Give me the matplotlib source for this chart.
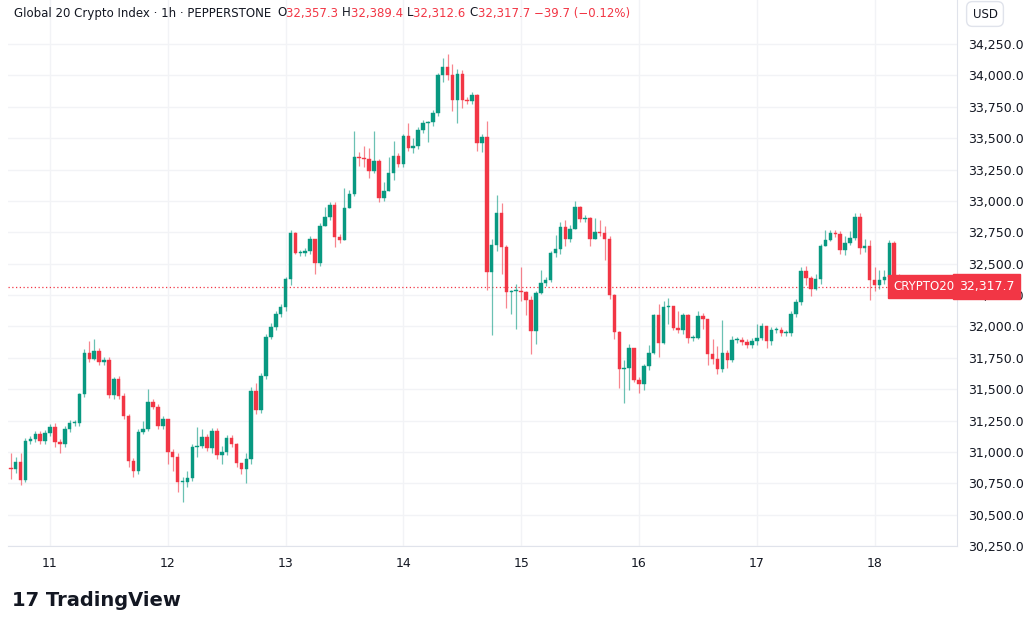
import matplotlib
matplotlib.use("Agg")
import matplotlib.pyplot as plt
from matplotlib.patches import Rectangle

# hourly closes, starting 10th 16:00
closes_d10 = [30864, 30920, 30776, 31087, 31100, 31140, 31090, 31150]
closes_d11 = [31200, 31080, 31060, 31180, 31230, 31230, 31460, 31790, 31740, 31800, 31720, 31730,
              31455, 31580, 31445, 31285, 30930, 30850, 31160, 31180, 31400, 31360, 31210, 31260]
closes_d12 = [31000, 30960, 30760, 30760, 30790, 31040, 31050, 31120, 31030, 31170, 30975, 31000,
              31110, 31060, 30910, 30860, 30940, 31485, 31335, 31605, 31915, 31995, 32100, 32155]
closes_d13 = [32380, 32745, 32585, 32587, 32600, 32696, 32507, 32802, 32874, 32967, 32714, 32690,
              32943, 33055, 33350, 33345, 33330, 33240, 33320, 33023, 33075, 33222, 33360, 33296]
closes_d14 = [33517, 33424, 33440, 33565, 33623, 33625, 33700, 34003, 34066, 34000, 33803, 34010,
              33803, 33800, 33840, 33464, 33507, 32436, 32650, 32900, 32635, 32276, 32285, 32285]
closes_d15 = [32276, 32210, 31965, 32266, 32348, 32370, 32585, 32614, 32795, 32700, 32780, 32951,
              32855, 32860, 32696, 32755, 32745, 32695, 32250, 31955, 31660, 31670, 31828, 31573]
closes_d16 = [31540, 31687, 31788, 32090, 31870, 32154, 32160, 31987, 31970, 32090, 31908, 31908,
              32082, 32060, 31780, 31740, 31660, 31788, 31735, 31890, 31890, 31875, 31850, 31880]
closes_d17 = [31905, 32000, 31880, 31970, 31970, 31950, 31950, 32100, 32195, 32444, 32385, 32298,
              32380, 32640, 32690, 32746, 32740, 32609, 32665, 32705, 32874, 32625, 32640, 32370]
closes_d18 = [32330, 32370, 32390, 32665, 32393, 32370, 32317.7]
first_open = 30870

# wick highs / lows for candles with visible wicks: (day, hour): (high, low)
wick_reads = {
    (10, 0): (30990, 30780), (10, 1): (30960, 30830), (10, 2): (30990, 30740), (10, 3): (31110, 30760),
    (11, 1): (31230, 31040), (11, 2): (31100, 30990), (11, 6): (31470, 31210),
    (11, 7): (31820, 31440), (11, 8): (31880, 31720), (11, 9): (31900, 31730),
    (11, 13): (31600, 31420), (11, 16): (31300, 30880), (11, 17): (30950, 30800),
    (11, 19): (31250, 31140), (11, 20): (31500, 31170), (11, 21): (31420, 31340),
    (12, 0): (31260, 30900), (12, 1): (31020, 30850), (12, 2): (30990, 30680), (12, 3): (30800, 30600),
    (12, 4): (30850, 30720), (12, 6): (31200, 30960), (12, 7): (31180, 31030),
    (12, 9): (31190, 30990), (12, 10): (31190, 30940), (12, 11): (31050, 30900),
    (12, 14): (31070, 30880), (12, 15): (30910, 30820), (12, 16): (30990, 30750),
    (12, 17): (31520, 30900), (12, 18): (31550, 31300), (12, 21): (32030, 31900),
    (13, 0): (32390, 32120), (13, 1): (32770, 32330), (13, 2): (32750, 32580),
    (13, 6): (32700, 32420), (13, 7): (32820, 32480), (13, 8): (32950, 32840),
    (13, 10): (32990, 32630), (13, 12): (33100, 32890), (13, 13): (33090, 32960),
    (13, 14): (33560, 33040), (13, 15): (33390, 33280), (13, 16): (33440, 33270),
    (13, 17): (33420, 33180), (13, 18): (33560, 33220), (13, 19): (33330, 32990),
    (13, 20): (33150, 33000), (13, 21): (33350, 33090), (13, 22): (33480, 33170),
    (14, 0): (33530, 33270), (14, 1): (33620, 33400), (14, 2): (33500, 33380),
    (14, 5): (33640, 33470), (14, 7): (34020, 33680), (14, 8): (34140, 33950),
    (14, 9): (34170, 33960), (14, 10): (34090, 33720), (14, 11): (34050, 33620),
    (14, 12): (34040, 33740), (14, 15): (33850, 33400), (14, 16): (33530, 33390),
    (14, 17): (33640, 32290), (14, 18): (32700, 31930), (14, 19): (33050, 32600),
    (14, 20): (32980, 32420), (14, 21): (32650, 32150), (14, 22): (32290, 32100), (14, 23): (32340, 31980),
    (15, 0): (32470, 32200), (15, 1): (32280, 32090), (15, 2): (32240, 31780), (15, 3): (32280, 31860),
    (15, 4): (32450, 32260), (15, 6): (32600, 32350), (15, 7): (32730, 32550), (15, 8): (32830, 32580),
    (15, 9): (32850, 32640), (15, 11): (33000, 32780), (15, 12): (32960, 32830),
    (15, 14): (32870, 32640), (15, 15): (32860, 32700), (15, 16): (32850, 32720),
    (15, 17): (32800, 32530), (15, 18): (32720, 32220), (15, 19): (32260, 31900),
    (15, 20): (31960, 31510), (15, 21): (31730, 31390), (15, 22): (31860, 31490), (15, 23): (31830, 31560),
    (16, 0): (31600, 31470), (16, 1): (31700, 31490), (16, 2): (31850, 31650), (16, 3): (32100, 31780),
    (16, 4): (32180, 31760), (16, 5): (32200, 31860), (16, 6): (32230, 32020),
    (16, 7): (32160, 31970), (16, 8): (32120, 31950), (16, 9): (32110, 31940),
    (16, 10): (32100, 31870), (16, 12): (32120, 31900), (16, 13): (32110, 31980),
    (16, 14): (32060, 31690), (16, 15): (31900, 31700), (16, 16): (31840, 31620),
    (16, 17): (32050, 31640), (16, 18): (31810, 31670), (16, 19): (31920, 31720),
    (17, 0): (32020, 31850), (17, 1): (32030, 31890), (17, 2): (32000, 31830),
    (17, 7): (32120, 31920), (17, 9): (32470, 32170), (17, 10): (32480, 32330),
    (17, 11): (32400, 32240), (17, 12): (32420, 32290), (17, 13): (32660, 32340),
    (17, 14): (32770, 32650), (17, 15): (32770, 32680), (17, 17): (32760, 32580),
    (17, 18): (32720, 32570), (17, 19): (32760, 32650), (17, 20): (32900, 32690),
    (17, 21): (32900, 32580), (17, 22): (32700, 32590), (17, 23): (32690, 32210),
    (18, 0): (32470, 32280), (18, 1): (32450, 32300), (18, 2): (32450, 32340),
    (18, 3): (32690, 32380), (18, 4): (32680, 32340), (18, 5): (32420, 32230), (18, 6): (32370, 32250),
}

yticks = list(range(30250, 34251, 250))
day_labels = ["11", "12", "13", "14", "15", "16", "17", "18"]

UP = "#089981"
DN = "#f23645"
GRID = "#f2f3f6"

day_lists = [(10, closes_d10, -8), (11, closes_d11, 0), (12, closes_d12, 24), (13, closes_d13, 48),
             (14, closes_d14, 72), (15, closes_d15, 96), (16, closes_d16, 120), (17, closes_d17, 144),
             (18, closes_d18, 168)]

fig = plt.figure(figsize=(10.24, 6.27), dpi=100)
ax = fig.add_axes([8 / 1024, 81 / 627, 949 / 1024, 546 / 627])
ax.set_xlim(-8.56, 184.8)
ax.set_ylim(30250, 34601)

for t in yticks:
    ax.axhline(t, color=GRID, lw=1, zorder=0)
for i in range(len(day_labels)):
    ax.axvline(i * 24, color=GRID, lw=1, zorder=0)

prev = first_open
for day, cl, start in day_lists:
    for k, c in enumerate(cl):
        h = start + k
        o = prev
        prev = c
        col = UP if c >= o else DN
        hi, lo = wick_reads.get((day, k), (max(o, c) + 25, min(o, c) - 25))
        hi = max(hi, o, c)
        lo = min(lo, o, c)
        ax.plot([h, h], [lo, hi], color=col, lw=0.9, alpha=0.6, zorder=2, solid_capstyle="butt")
        body = max(abs(c - o), 6)
        ax.add_patch(Rectangle((h - 0.36, min(o, c)), 0.72, body, facecolor=col, edgecolor=col,
                               lw=0.3, zorder=3))

last = closes_d18[-1]
ax.axhline(last, color=DN, lw=0.9, ls=(0, (1, 2)), zorder=1)

ax.yaxis.tick_right()
ax.set_yticks(yticks)
ax.set_yticklabels([f"{v:,.1f}" for v in yticks], fontsize=9, color="#131722")
ax.set_xticks([i * 24 for i in range(len(day_labels))])
ax.set_xticklabels(day_labels, fontsize=9, color="#131722")
ax.tick_params(length=0, pad=8)
for s in ["top", "left"]:
    ax.spines[s].set_visible(False)
ax.spines["right"].set_color("#e0e3eb")
ax.spines["bottom"].set_color("#e0e3eb")

yfrac = (last - 30250) / (34601 - 30250)
ax.text(1.002, yfrac, f"{last:,.1f}", transform=ax.transAxes, ha="left", va="center", zorder=10,
        fontsize=9, color="white", bbox=dict(boxstyle="square,pad=0.45", fc=DN, ec=DN))
ax.text(0.997, yfrac, "CRYPTO20", transform=ax.transAxes, ha="right", va="center", zorder=10,
        fontsize=8.5, color="white", bbox=dict(boxstyle="square,pad=0.45", fc=DN, ec=DN))

# header
fig.canvas.draw()
r = fig.canvas.get_renderer()
title = fig.text(14 / 1024, 1 - 13 / 627, "Global 20 Crypto Index · 1h · PEPPERSTONE", fontsize=8.5,
                 color="#131722", va="center")
x = title.get_window_extent(renderer=r).x1 / 1024 + 6 / 1024
parts = [("O", "#131722"), ("32,357.3 ", DN), ("H", "#131722"), ("32,389.4 ", DN), ("L", "#131722"),
         ("32,312.6 ", DN), ("C", "#131722"), ("32,317.7 −39.7 (−0.12%)", DN)]
for txt, col in parts:
    t = fig.text(x, 1 - 13 / 627, txt, fontsize=8.5, color=col, va="center")
    x += t.get_window_extent(renderer=r).width / 1024
fig.text(985 / 1024, 1 - 14 / 627, "USD", fontsize=8.5, color="#131722", va="center", ha="center",
         bbox=dict(boxstyle="round,pad=0.5", fc="white", ec="#e0e3eb"))
fig.text(12 / 1024, 1 - 600 / 627, "17 TradingView", fontsize=14, fontweight="bold", color="#131722",
         va="center")

fig.savefig("out.png", dpi=100, facecolor="white")
